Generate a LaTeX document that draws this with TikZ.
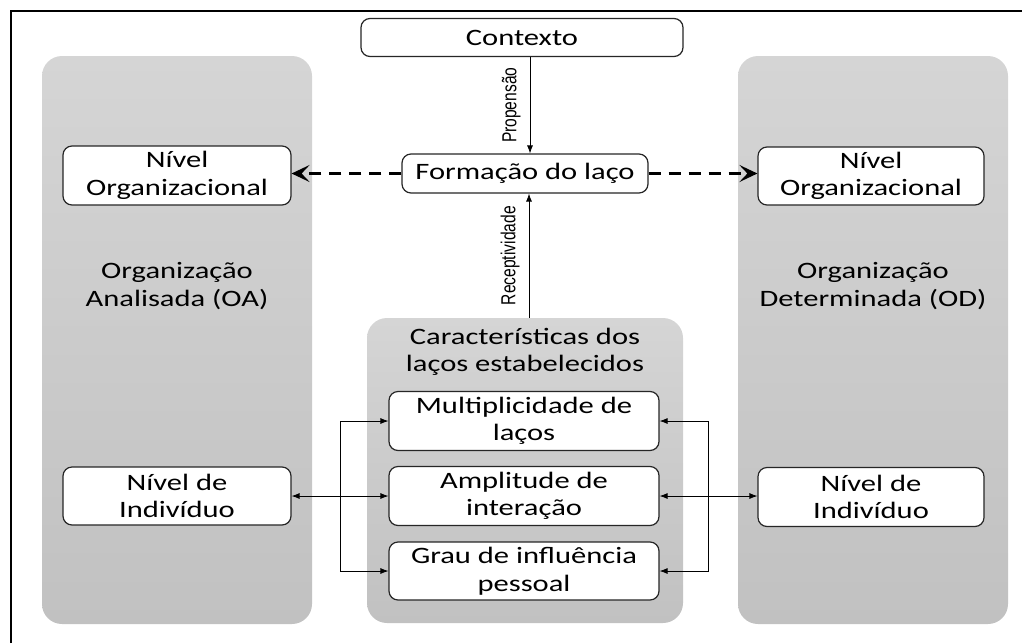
\documentclass[tikz,border=0pt]{standalone}
\usepackage{fontspec}
\usepackage{graphicx}
\setmainfont{Carlito}[FakeStretch=1.3]
\newfontfamily\labelfont{Liberation Sans}
\usetikzlibrary{arrows.meta}

\definecolor{panelTop}{RGB}{213,213,213}
\definecolor{panelBot}{RGB}{193,193,193}

\tikzset{
  box/.style={draw=black!85, line width=1.2pt, fill=white, rounded corners=9pt, align=center, inner sep=0pt},
  panel/.style={rounded corners=20pt, top color=panelTop, bottom color=panelBot, draw=none},
  paneltext/.style={align=center},
  link/.style={line width=0.8pt, -{Latex[length=8pt,width=6pt]}},
  dasharrow/.style={line width=3pt, dash pattern=on 12pt off 8pt, -{Stealth[length=18pt,width=17pt,inset=8pt]}},
  vlabel/.style={rotate=90, anchor=south, inner sep=9pt, font=\labelfont\fontsize{15.6}{18}\selectfont}
}

\begin{document}
\begin{tikzpicture}[x=1pt, y=-1pt, font=\fontsize{23.5}{27.5}\selectfont]
\useasboundingbox (0,0) rectangle (1022,643);
\draw[line width=1.5pt] (11,643) -- (11,11) -- (1022,11);

% the three grey panels
\node[panel, minimum width=270pt, minimum height=568pt] (oa) at (177,340) {};
\node[panel, minimum width=270pt, minimum height=568pt] (od) at (873,340) {};
\node[panel, minimum width=316pt, minimum height=305pt] (caract) at (525,470.5) {};
\node[paneltext] (oatext) at (177,286) {Organização\\Analisada (OA)};
\node[paneltext] (odtext) at (873,286) {Organização\\Determinada (OD)};
\node[paneltext] (caracttext) at (525,352) {Características dos\\laços estabelecidos};

% boxes
\node[box, minimum width=322pt, minimum height=38pt] (ctx) at (522,37.5) {Contexto};
\node[box, minimum width=246pt, minimum height=39pt] (form) at (525,173.5) {Formação do laço};
\node[box, minimum width=228pt, minimum height=59pt] (orgA) at (177,175.5) {Nível\\Organizacional};
\node[box, minimum width=226pt, minimum height=58pt] (orgD) at (871,176) {Nível\\Organizacional};
\node[box, minimum width=228pt, minimum height=58pt] (indA) at (177,496) {Nível de\\Indivíduo};
\node[box, minimum width=226pt, minimum height=59pt] (indD) at (871,497) {Nível de\\Indivíduo};
\node[box, minimum width=270pt, minimum height=59pt] (multi) at (524,421) {Multiplicidade de\\laços};
\node[box, minimum width=270pt, minimum height=59pt] (ampl) at (524,496) {Amplitude de\\interação};
\node[box, minimum width=270pt, minimum height=58pt] (grau) at (524,571) {Grau de influência\\pessoal};

% connectors
\draw[link] ([xshift=8pt]ctx.south) to node[vlabel] {\scalebox{1}[1.3]{Propensão}} ([xshift=5pt]form.north);
\draw[link] ([xshift=4pt]caract.north) to node[vlabel] {\scalebox{1}[1.3]{Receptividade}} ([xshift=4pt]form.south);
\draw[dasharrow] (form.west) -- (form.west -| orgA.east);
\draw[dasharrow] (form.east) -- (form.east -| orgD.west);

\coordinate (jA) at (340,496);
\coordinate (jD) at (708,496);
\draw[link, {Latex[length=8pt,width=6pt]}-{Latex[length=8pt,width=6pt]}] (indA) -- (ampl);
\draw[link] (jA) |- (multi.west);
\draw[link] (jA) |- (grau.west);
\draw[link, {Latex[length=8pt,width=6pt]}-{Latex[length=8pt,width=6pt]}] (ampl.east) -- (ampl.east -| indD.west);
\draw[link] (jD) |- (multi.east);
\draw[link] (jD) |- (grau.east);
\end{tikzpicture}
\end{document}
